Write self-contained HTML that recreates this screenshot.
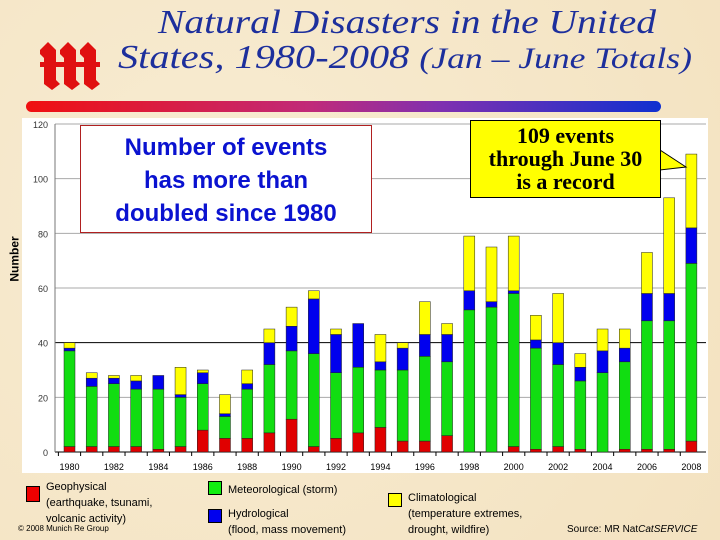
<!DOCTYPE html>
<html><head><meta charset="utf-8"><style>
body{margin:0;width:720px;height:540px;overflow:hidden;background:#f6e7c9;font-family:"Liberation Sans",sans-serif;position:relative}
.abs{position:absolute}
</style></head><body>
<div class="abs" style="left:0;top:0;width:720px;height:540px;background:radial-gradient(circle at 30% 40%,#f8ecd2,#f3e2c0)"></div>
<svg class="abs" style="left:0;top:0" width="720" height="100">
 <g fill="#e01010">
  <polygon points="40,50 48,42 56,50 56,80 60,84 52,90 44,84 44,58 40,54"/>
  <polygon points="60,50 68,42 76,50 76,80 80,84 72,90 64,84 64,58 60,54"/>
  <polygon points="80,50 88,42 96,50 96,80 100,84 92,90 84,84 84,58 80,54"/>
  <rect x="40" y="62" width="60" height="5"/>
 </g>
 <text x="158" y="33" textLength="498" lengthAdjust="spacingAndGlyphs" font-family="Liberation Serif,serif" font-style="italic" font-size="34" fill="#1d2f9c">Natural Disasters in the United</text>
 <text x="118" y="68" textLength="574" lengthAdjust="spacingAndGlyphs" font-family="Liberation Serif,serif" font-style="italic" font-size="34" fill="#1d2f9c">States, 1980-2008 <tspan font-size="30">(Jan – June Totals)</tspan></text>
</svg>
<div class="abs" style="left:26px;top:101px;width:635px;height:11px;border-radius:6px;background:linear-gradient(90deg,#f01010,#c02a7a 45%,#8030b0 65%,#1030d0)"></div>
<svg class="abs" style="left:0;top:0" width="720" height="540" id="chart"></svg>
<div class="abs" style="left:80px;top:125px;width:292px;height:108px;border:1px solid #b02020;background:#fff;color:#0a12d0;font:bold 24px/33px 'Liberation Sans',sans-serif;text-align:center;padding-top:5px;box-sizing:border-box">Number of events<br>has more than<br>doubled since 1980</div>
<svg class="abs" style="left:0;top:0" width="720" height="540"><polygon points="660,150 686,167 660,170" fill="#ffff00" stroke="#000" stroke-width="1"/></svg>
<div class="abs" style="left:470px;top:120px;width:191px;height:78px;border:1px solid #000;background:#ffff00;font:bold 22px/23px 'Liberation Serif',serif;text-align:center;padding-top:3px;box-sizing:border-box">109 events<br>through June 30<br>is a record</div>
<div class="abs" style="left:-8px;top:252px;font:bold 12px 'Liberation Sans',sans-serif;transform:rotate(-90deg)">Number</div>
<div class="abs" style="left:26px;top:479px;font:11px/16px 'Liberation Sans',sans-serif"><span class="abs" style="left:0;top:7px;width:12px;height:14px;background:#e00;border:1px solid #000"></span><div style="margin-left:20px">Geophysical<br>(earthquake, tsunami,<br>volcanic activity)</div></div>
<div class="abs" style="left:18px;top:524px;font:8px 'Liberation Sans',sans-serif;background:#f5e5c5">© 2008 Munich Re Group</div>
<div class="abs" style="left:208px;top:481px;font:11px 'Liberation Sans',sans-serif"><span style="display:inline-block;width:12px;height:12px;background:#1e1;border:1px solid #000;vertical-align:-2px;margin-right:6px"></span>Meteorological (storm)</div>
<div class="abs" style="left:208px;top:506px;font:11px/16px 'Liberation Sans',sans-serif"><span class="abs" style="left:0;top:3px;width:12px;height:12px;background:#00e;border:1px solid #000"></span><div style="margin-left:20px">Hydrological<br>(flood, mass movement)</div></div>
<div class="abs" style="left:388px;top:490px;font:11px/16px 'Liberation Sans',sans-serif"><span class="abs" style="left:0;top:3px;width:12px;height:12px;background:#ff0;border:1px solid #000"></span><div style="margin-left:20px">Climatological<br>(temperature extremes,<br>drought, wildfire)</div></div>
<div class="abs" style="left:567px;top:524px;font:10px 'Liberation Sans',sans-serif">Source: MR Nat<i>CatSERVICE</i></div>
<script>
const years=[1980,1981,1982,1983,1984,1985,1986,1987,1988,1989,1990,1991,1992,1993,1994,1995,1996,1997,1998,1999,2000,2001,2002,2003,2004,2005,2006,2007,2008];
const geophysical=[2,2,2,2,1,2,8,5,5,7,12,2,5,7,9,4,4,6,0,0,2,1,2,1,0,1,1,1,4];
const meteorological=[35,22,23,21,22,18,17,8,18,25,25,34,24,24,21,26,31,27,52,53,56,37,30,25,29,32,47,47,65];
const hydrological=[1,3,2,3,5,1,4,1,2,8,9,20,14,16,3,8,8,10,7,2,1,3,8,5,8,5,10,10,13];
const climatological=[2,2,1,2,0,10,1,7,5,5,7,3,2,0,10,2,12,4,20,20,20,9,18,5,8,7,15,35,27];
const yTicks=[0,20,40,60,80,100,120];
const xLabels=[1980,1982,1984,1986,1988,1990,1992,1994,1996,1998,2000,2002,2004,2006,2008];
const NS='http://www.w3.org/2000/svg';
const svg=document.getElementById('chart');
const x0=69.5,dx=22.21,y0=452,ky=(452-124)/120,bw=11;
const xs=i=>x0+i*dx, ys=v=>y0-v*ky;
function mk(t,a){const e=document.createElementNS(NS,t);for(const k in a)e.setAttribute(k,a[k]);svg.appendChild(e);return e;}
const bg=mk('rect',{x:22,y:118,width:686,height:355,fill:'#fff'});


yTicks.forEach(v=>{
 const l=mk('line',{x1:55,x2:706,y1:ys(v),y2:ys(v),stroke:(v==40||v==0)?'#000':'#aaa','stroke-width':1});
 
 
 const t=mk('text',{x:48,y:ys(v)+4,'text-anchor':'end','font-size':9,'font-family':'Liberation Sans,sans-serif',fill:'#333'});
 t.textContent=v;
 
 
});
const ax=mk('line',{x1:55,x2:55,y1:124,y2:452,stroke:'#777'});


years.forEach((yr,i)=>{
 const tk=mk('line',{x1:xs(i)-dx/2,x2:xs(i)-dx/2,y1:452,y2:456,stroke:'#000'});
 
 
 let base=0;
 [[geophysical,'#e00000'],[meteorological,'#11dd11'],[hydrological,'#0000ee'],[climatological,'#ffff00']].forEach((s,k)=>{
  const v=s[0][i]; if(v<=0)return;
  const r=mk('rect',{x:xs(i)-bw/2,y:ys(base+v),width:bw,height:v*ky,fill:s[1],stroke:'#222','stroke-width':0.5});
  
  
  base+=v;
 });
});
xLabels.forEach(yr=>{
 const i=years.indexOf(yr);
 const t=mk('text',{x:xs(i),y:470,'text-anchor':'middle','font-size':9,'font-family':'Liberation Sans,sans-serif',fill:'#000'});
 t.textContent=yr;
 
 
});
</script>
</body></html>
